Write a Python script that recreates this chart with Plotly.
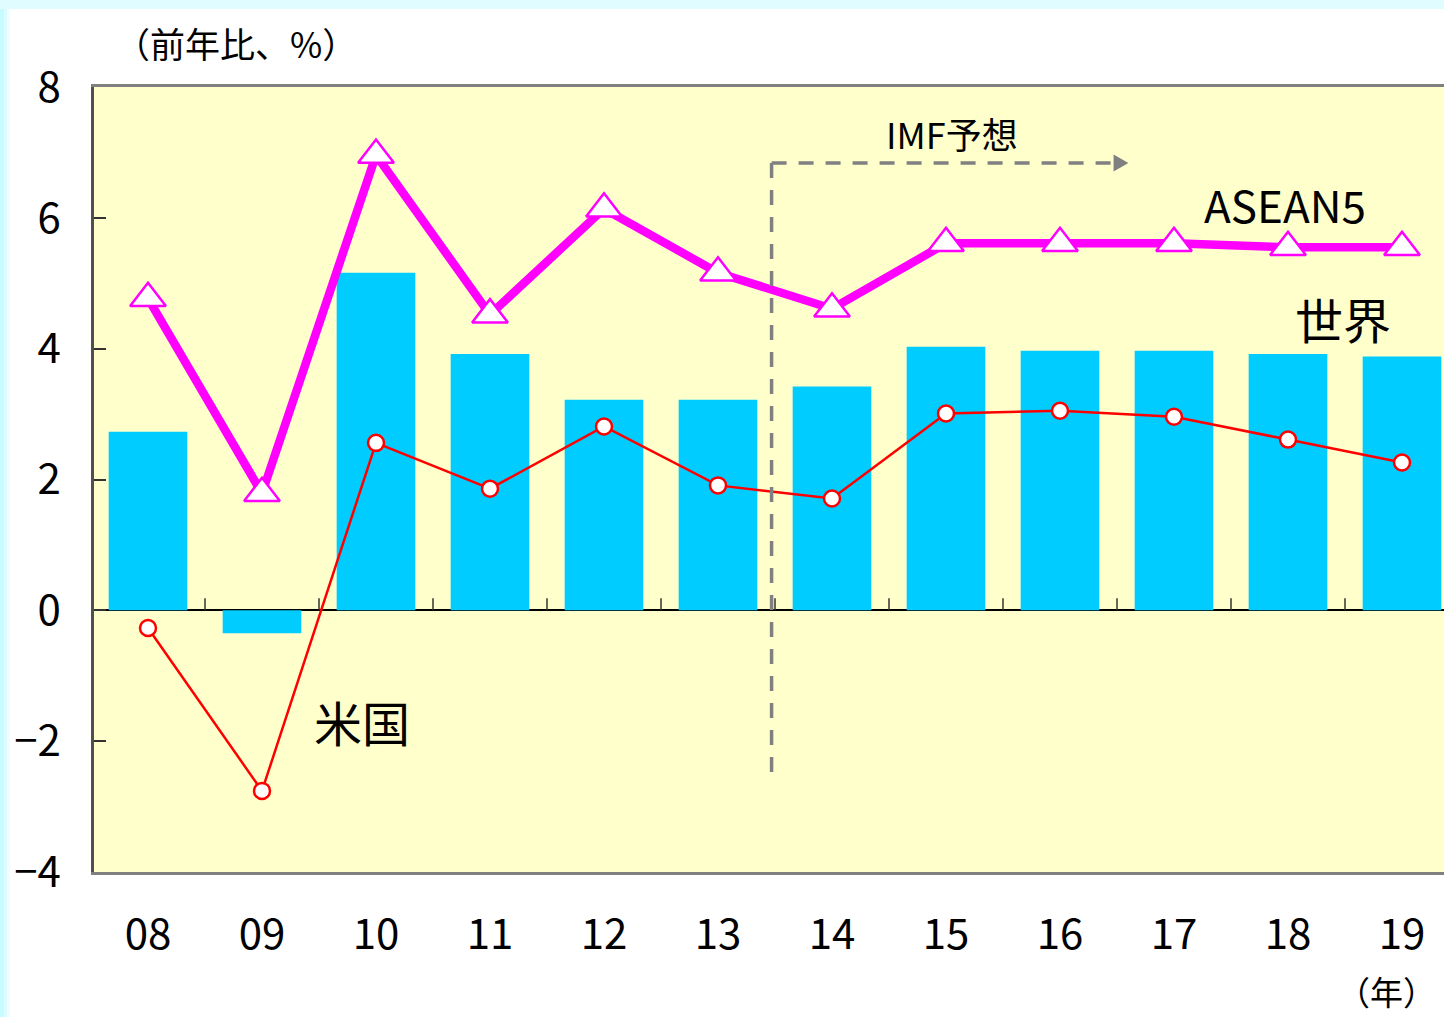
import plotly.graph_objects as go

# ---- data ----
years = ["08", "09", "10", "11", "12", "13", "14", "15", "16", "17", "18", "19"]
world = [2.73, -0.35, 5.16, 3.92, 3.22, 3.22, 3.42, 4.03, 3.97, 3.97, 3.92, 3.88]
asean5 = [4.77, 1.79, 6.96, 4.52, 6.14, 5.16, 4.61, 5.61, 5.61, 5.61, 5.55, 5.55]
us = [-0.27, -2.76, 2.56, 1.86, 2.81, 1.91, 1.71, 3.01, 3.05, 2.96, 2.61, 2.26]
y_ticks = [-4, -2, 0, 2, 4, 6, 8]

# forecast marker (IMF予想) position in axis units
forecast_x = 5.47
forecast_top = 6.84
forecast_bottom = -2.47
forecast_arrow_end = 8.47
forecast_arrow_tip = 8.6

# ---- layout geometry ----
W, H = 1444, 1017
ML, MT, MB, MR = 94, 87, 145, 0
PW = W - ML - MR
PH = H - MT - MB
CAT = 114.0
x_lo = -54.0 / CAT
x_hi = x_lo + PW / CAT
y_lo, y_hi = -4, 8
unit_px = PH / (y_hi - y_lo)

FONT = "Noto Sans CJK JP"
xs = list(range(len(years)))


def px_x(p):
    return (p - ML) / PW


def px_y(p):
    return (H - MB - p) / PH


fig = go.Figure()

fig.add_trace(go.Bar(
    x=xs, y=world, width=0.69,
    marker=dict(color="#00CCFF", line=dict(width=0)),
    hoverinfo="skip",
))

# small category-separator ticks on the zero line
tick_len = 12 / unit_px
tx, ty = [], []
for i in range(len(years) - 1):
    tx += [i + 0.5, i + 0.5, None]
    ty += [0, tick_len, None]
fig.add_trace(go.Scatter(x=tx, y=ty, mode="lines",
                         line=dict(color="#333333", width=1.5),
                         hoverinfo="skip"))

fig.add_trace(go.Scatter(
    x=xs, y=us, mode="lines+markers",
    line=dict(color="#FF0000", width=2.5),
    marker=dict(symbol="circle", size=16, color="white",
                line=dict(color="#FF0000", width=2.5)),
    hoverinfo="skip",
))

fig.add_trace(go.Scatter(
    x=xs, y=asean5, mode="lines+markers",
    line=dict(color="#FF00FF", width=8.5),
    marker=dict(symbol="triangle-up", size=31, color="white",
                line=dict(color="#FF00FF", width=2.5)),
    hoverinfo="skip",
))

shapes = []
# background edge strips (light cyan)
shapes.append(dict(type="rect", xref="paper", yref="paper",
                   x0=px_x(0), x1=px_x(4), y0=px_y(H), y1=px_y(0),
                   fillcolor="#C8FBFF", line=dict(width=0), layer="below"))
shapes.append(dict(type="rect", xref="paper", yref="paper",
                   x0=px_x(4), x1=px_x(7), y0=px_y(H), y1=px_y(0),
                   fillcolor="#DCFDFF", line=dict(width=0), layer="below"))
shapes.append(dict(type="rect", xref="paper", yref="paper",
                   x0=px_x(7), x1=px_x(10), y0=px_y(H), y1=px_y(0),
                   fillcolor="#EEFEFF", line=dict(width=0), layer="below"))
shapes.append(dict(type="rect", xref="paper", yref="paper",
                   x0=px_x(0), x1=px_x(W), y0=px_y(9), y1=px_y(0),
                   fillcolor="#E0FCFF", line=dict(width=0), layer="below"))

# forecast dashed lines + arrow head
dash_line = dict(color="#808080", width=3.5, dash="15px,12px")
shapes.append(dict(type="line", xref="x", yref="y",
                   x0=forecast_x, x1=forecast_x,
                   y0=forecast_bottom, y1=forecast_top,
                   line=dash_line, layer="above"))
shapes.append(dict(type="line", xref="x", yref="y",
                   x0=forecast_x, x1=forecast_arrow_end,
                   y0=forecast_top, y1=forecast_top,
                   line=dash_line, layer="above"))
half_h = 8.5 / unit_px
shapes.append(dict(type="path", xref="x", yref="y",
                   path=(f"M {forecast_arrow_end},{forecast_top - half_h} "
                         f"L {forecast_arrow_tip},{forecast_top} "
                         f"L {forecast_arrow_end},{forecast_top + half_h} Z"),
                   fillcolor="#808080", line=dict(width=0), layer="above"))


def label(x, y, text, size, ref="data"):
    r = ("x", "y") if ref == "data" else ("paper", "paper")
    return dict(x=x, y=y, xref=r[0], yref=r[1], text=text, showarrow=False,
                xanchor="center", yanchor="middle",
                font=dict(family=FONT, size=size, color="black"))


annotations = [
    label(7.05, 7.3, "IMF予想", 36),
    label(9.97, 6.21, "ASEAN5", 44),
    label(10.48, 4.47, "世界", 48),
    label(1.88, -1.69, "米国", 48),
    label(px_x(236), px_y(42), "（前年比、%）", 35, ref="paper"),
    label(px_x(1386), px_y(991), "（年）", 33, ref="paper"),
]

fig.update_layout(
    width=W, height=H,
    margin=dict(l=ML, r=MR, t=MT, b=MB, pad=0),
    paper_bgcolor="white",
    plot_bgcolor="#FFFFCC",
    showlegend=False,
    shapes=shapes,
    annotations=annotations,
    font=dict(family=FONT, color="black"),
    xaxis=dict(
        range=[x_lo, x_hi], tickmode="array", tickvals=xs, ticktext=years,
        showgrid=False, zeroline=False, ticks="",
        showline=True, linecolor="#808080", linewidth=3, mirror=True,
        tickfont=dict(family=FONT, size=42, color="black"),
        ticklabelstandoff=24, fixedrange=True,
    ),
    yaxis=dict(
        range=[y_lo, y_hi], tickmode="array", tickvals=y_ticks,
        showgrid=False, zeroline=True, zerolinecolor="black", zerolinewidth=1.5,
        ticks="inside", ticklen=12, tickwidth=1.5, tickcolor="#333333",
        showline=True, linecolor="#505050", linewidth=2.5, mirror=False,
        tickfont=dict(family=FONT, size=42, color="black"),
        ticklabelstandoff=22, fixedrange=True,
    ),
)

fig.write_html("out.html", config={"displayModeBar": False},
               post_script="document.body.style.margin='0px';document.body.style.overflow='hidden';")
